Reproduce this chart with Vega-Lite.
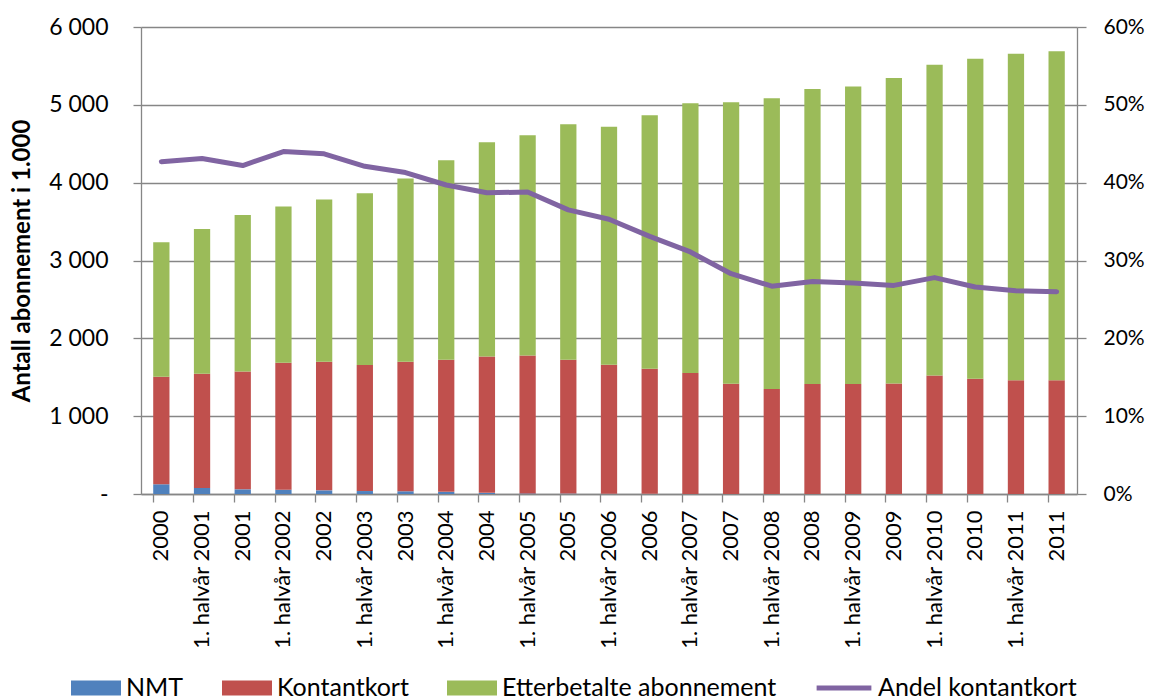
{
  "$schema": "https://vega.github.io/schema/vega-lite/v6.json",
  "width": 936,
  "height": 467,
  "autosize": {"type": "none"},
  "padding": {"left": 141, "top": 27, "right": 73, "bottom": 206},
  "background": "white",
  "config": {
    "font": "Lato",
    "view": {"stroke": null},
    "axis": {"labelFont": "Lato", "titleFont": "Lato", "labelColor": "#000000", "titleColor": "#000000", "domainColor": "#868686", "tickColor": "#868686", "domainWidth": 1.3, "tickWidth": 1.3},
    "legend": {"labelFont": "Lato", "labelColor": "#000000", "labelLimit": 500}
  },
  "data": {
    "values": [
      {"periode": "2000", "NMT": 125, "Kontantkort": 1381, "Etterbetalte abonnement": 1729, "Andel": 0.427},
      {"periode": "1. halvår 2001", "NMT": 77, "Kontantkort": 1467, "Etterbetalte abonnement": 1862, "Andel": 0.431},
      {"periode": "2001", "NMT": 60, "Kontantkort": 1515, "Etterbetalte abonnement": 2010, "Andel": 0.422},
      {"periode": "1. halvår 2002", "NMT": 55, "Kontantkort": 1631, "Etterbetalte abonnement": 2007, "Andel": 0.440},
      {"periode": "2002", "NMT": 47, "Kontantkort": 1651, "Etterbetalte abonnement": 2085, "Andel": 0.437},
      {"periode": "1. halvår 2003", "NMT": 38, "Kontantkort": 1618, "Etterbetalte abonnement": 2208, "Andel": 0.421},
      {"periode": "2003", "NMT": 35, "Kontantkort": 1663, "Etterbetalte abonnement": 2355, "Andel": 0.413},
      {"periode": "1. halvår 2004", "NMT": 28, "Kontantkort": 1696, "Etterbetalte abonnement": 2564, "Andel": 0.397},
      {"periode": "2004", "NMT": 15, "Kontantkort": 1753, "Etterbetalte abonnement": 2751, "Andel": 0.387},
      {"periode": "1. halvår 2005", "NMT": 8, "Kontantkort": 1772, "Etterbetalte abonnement": 2828, "Andel": 0.388},
      {"periode": "2005", "NMT": 5, "Kontantkort": 1719, "Etterbetalte abonnement": 3026, "Andel": 0.365},
      {"periode": "1. halvår 2006", "NMT": 3, "Kontantkort": 1657, "Etterbetalte abonnement": 3060, "Andel": 0.353},
      {"periode": "2006", "NMT": 2, "Kontantkort": 1606, "Etterbetalte abonnement": 3257, "Andel": 0.331},
      {"periode": "1. halvår 2007", "NMT": 1, "Kontantkort": 1552, "Etterbetalte abonnement": 3466, "Andel": 0.311},
      {"periode": "2007", "NMT": 0, "Kontantkort": 1416, "Etterbetalte abonnement": 3616, "Andel": 0.283},
      {"periode": "1. halvår 2008", "NMT": 0, "Kontantkort": 1348, "Etterbetalte abonnement": 3735, "Andel": 0.267},
      {"periode": "2008", "NMT": 0, "Kontantkort": 1412, "Etterbetalte abonnement": 3791, "Andel": 0.273},
      {"periode": "1. halvår 2009", "NMT": 0, "Kontantkort": 1412, "Etterbetalte abonnement": 3825, "Andel": 0.271},
      {"periode": "2009", "NMT": 0, "Kontantkort": 1421, "Etterbetalte abonnement": 3923, "Andel": 0.268},
      {"periode": "1. halvår 2010", "NMT": 0, "Kontantkort": 1524, "Etterbetalte abonnement": 3992, "Andel": 0.278},
      {"periode": "2010", "NMT": 0, "Kontantkort": 1480, "Etterbetalte abonnement": 4113, "Andel": 0.266},
      {"periode": "1. halvår 2011", "NMT": 0, "Kontantkort": 1463, "Etterbetalte abonnement": 4194, "Andel": 0.261},
      {"periode": "2011", "NMT": 0, "Kontantkort": 1463, "Etterbetalte abonnement": 4224, "Andel": 0.260}
    ]
  },
  "encoding": {
    "x": {
      "field": "periode", "type": "nominal", "sort": null,
      "scale": {"paddingInner": 0.6, "paddingOuter": 0.3},
      "axis": {"title": null, "labelAngle": -90, "labelAlign": "right", "labelBaseline": "middle", "labelFontSize": 22, "labelPadding": 8, "tickSize": 8, "bandPosition": 0, "labelFlush": false, "labelOverlap": false}
    }
  },
  "layer": [
    {
      "transform": [{"fold": ["NMT", "Kontantkort", "Etterbetalte abonnement"], "as": ["serie", "verdi"]}],
      "mark": {"type": "bar"},
      "encoding": {
        "y": {
          "field": "verdi", "type": "quantitative", "stack": "zero",
          "scale": {"domain": [0, 6000], "nice": false},
          "axis": {"title": "Antall abonnement i 1.000", "titleFontSize": 24, "titleFontWeight": "bold", "titlePadding": 14, "values": [0, 1000, 2000, 3000, 4000, 5000, 6000], "labelExpr": "datum.value == 0 ? '-' : replace(format(datum.value, ','), ',', ' ')", "labelFontSize": 23, "labelPadding": 25, "tickSize": 8, "grid": true, "gridColor": "#868686", "gridWidth": 1.3}
        },
        "color": {
          "field": "serie", "type": "nominal",
          "scale": {"domain": ["NMT", "Kontantkort", "Etterbetalte abonnement"], "range": ["#4F81BD", "#C0504D", "#9BBB59"]},
          "legend": {"title": null, "orient": "none", "direction": "horizontal", "legendX": -70, "legendY": 636, "padding": 0, "symbolType": "M-1,-0.3H1V0.3H-1Z", "symbolSize": 2500, "symbolStrokeWidth": 0, "labelFontSize": 25, "labelOffset": 5, "columnPadding": 38}
        },
        "order": {"field": "serie", "sort": "descending"}
      }
    },
    {
      "mark": {"type": "line", "strokeWidth": 5, "strokeCap": "round", "strokeJoin": "round"},
      "encoding": {
        "y": {
          "field": "Andel", "type": "quantitative",
          "scale": {"domain": [0, 0.6], "nice": false},
          "axis": {"title": null, "orient": "right", "values": [0, 0.1, 0.2, 0.3, 0.4, 0.5, 0.6], "format": ".0%", "labelFontSize": 21, "labelPadding": 17, "tickSize": 9, "grid": false}
        },
        "color": {
          "datum": "Andel kontantkort",
          "scale": {"domain": ["Andel kontantkort"], "range": ["#8064A2"]},
          "legend": {"title": null, "orient": "none", "direction": "horizontal", "legendX": 673, "legendY": 631, "padding": 0, "symbolType": "stroke", "symbolSize": 3000, "symbolStrokeWidth": 5, "labelFontSize": 25, "labelOffset": 4}
        }
      }
    }
  ],
  "resolve": {"scale": {"y": "independent", "color": "independent"}}
}
